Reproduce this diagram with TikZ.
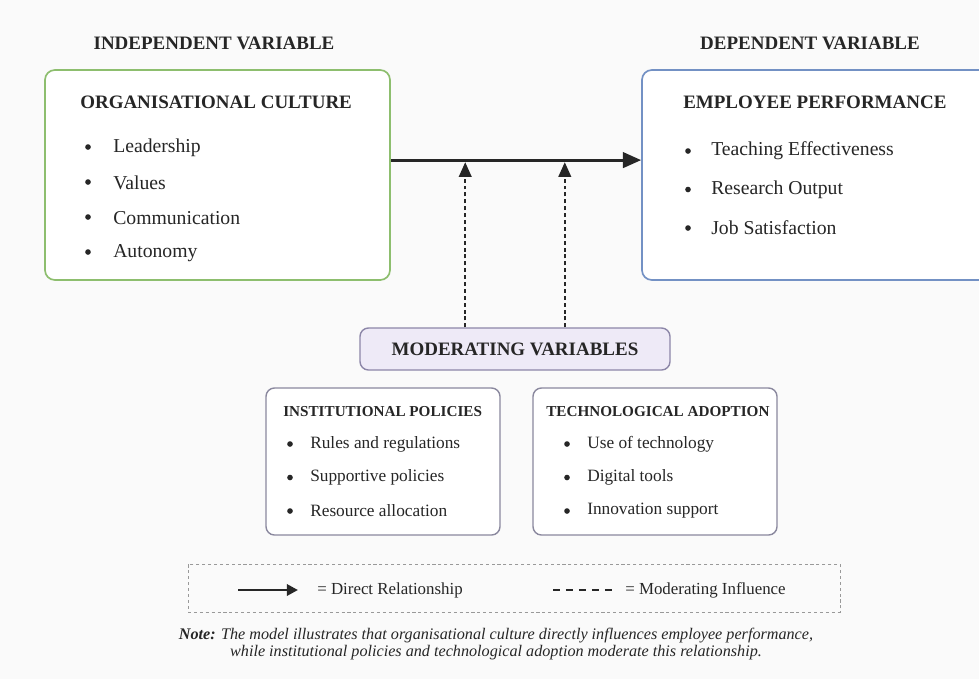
\documentclass[tikz,border=0pt]{standalone}
\usepackage{fontspec}
\setmainfont{Liberation Serif}
\usetikzlibrary{arrows.meta,fit,positioning}
\definecolor{cultureGreen}{HTML}{8DBE6E}
\definecolor{perfBlue}{HTML}{7391C4}
\definecolor{modLine}{HTML}{8C86A8}
\definecolor{modFill}{HTML}{EEEAF7}
\definecolor{subLine}{HTML}{8A889E}
\definecolor{inkGray}{HTML}{262626}

\begin{document}
\begin{tikzpicture}[x=0.025cm,y=-0.025cm,
  every node/.style={text=inkGray,inner sep=0pt},
  head/.style={font=\fontsize{13.5}{16}\selectfont\bfseries},
  title/.style={anchor=west,font=\fontsize{13.5}{16}\selectfont\bfseries},
  subtitle/.style={anchor=west,font=\fontsize{10.8}{13}\selectfont\bfseries},
  item/.style={anchor=west,font=\fontsize{14}{16}\selectfont},
  subitem/.style={anchor=west,font=\fontsize{12.3}{15}\selectfont},
  dot/.style={circle,fill=inkGray,minimum size=4pt},
  main box/.style={draw,line width=1.2pt,rounded corners=7pt},
  sub box/.style={draw=subLine,line width=1pt,fill=white,rounded corners=6pt},
  direct/.style={draw=inkGray,line width=2pt,-{Triangle[length=13pt,width=11pt]}},
  moderating/.style={draw=inkGray,line width=1.4pt,dash pattern=on 2.8pt off 2.1pt,
    -{Triangle[length=10.5pt,width=9pt]},shorten >=1.5pt},
]
  \clip (0,0) rectangle (979,679);%<- keeps the page at the reference size
  \fill[black!2] (0,0) rectangle (979,679);

  % variable headings
  \node[head] (IndepHead) at (214,43) {INDEPENDENT VARIABLE};
  \node[head] (DepHead) at (810,43) {DEPENDENT VARIABLE};

  % independent variable
  \node[main box,draw=cultureGreen,fill=white,fit={(45,70)(390,280)}] (CultureBox) {};
  \node[title] (CultureTitle) at (80,102) {ORGANISATIONAL CULTURE};
  \foreach \txt [count=\i] in {Leadership,Values,Communication,Autonomy}{
    \node[dot] (CultureDot\i) at (88,{147+35*(\i-1)}) {};
    \node[item] (CultureItem\i) at (113,{148+35*(\i-1)}) {\txt};
  }

  % dependent variable
  \node[main box,draw=perfBlue,fill=white,fit={(642,70)(1010,280)}] (PerformanceBox) {};
  \node[title] (PerformanceTitle) at (683,102) {EMPLOYEE PERFORMANCE};
  \foreach \txt [count=\i] in {Teaching Effectiveness,Research Output,Job Satisfaction}{
    \node[dot] (PerfDot\i) at (688,{151+38.5*(\i-1)}) {};
    \node[item] (PerfItem\i) at (711,{151+38.5*(\i-1)}) {\txt};
  }

  % moderators
  \node[main box,draw=modLine,line width=1pt,fill=modFill,rounded corners=6pt,
    fit={(360,328)(670,370)}] (ModBox) {};
  \node[head] (ModTitle) at (ModBox.center) {MODERATING VARIABLES};

  \node[sub box,fit={(266,388)(500,535)}] (PolicyBox) {};
  \node[subtitle] (PolicyTitle) at (283,412) {INSTITUTIONAL POLICIES};
  \foreach \txt [count=\i] in {Rules and regulations,Supportive policies,Resource allocation}{
    \node[dot] (PolicyDot\i) at (290,{444+33.5*(\i-1)}) {};
    \node[subitem] (PolicyItem\i) at (310,{444+33.5*(\i-1)}) {\txt};
  }

  \node[sub box,fit={(533,388)(777,535)}] (TechBox) {};
  \node[subtitle] (TechTitle) at (546,412) {TECHNOLOGICAL ADOPTION};
  \foreach \txt [count=\i] in {Use of technology,Digital tools,Innovation support}{
    \node[dot] (TechDot\i) at (567,{444+33.5*(\i-1)}) {};
    \node[subitem] (TechItem\i) at (587,{444+33.5*(\i-1)}) {\txt};
  }

  % relationships
  \draw[direct] ([yshift=10.6pt]CultureBox.east) -- coordinate (DirectMid) ([yshift=10.6pt]PerformanceBox.west);
  \draw[moderating] ([xshift=-35.4pt]ModBox.north) -- ([xshift=-35.4pt]ModBox.north |- DirectMid);
  \draw[moderating] ([xshift=35.4pt]ModBox.north) -- ([xshift=35.4pt]ModBox.north |- DirectMid);

  % legend
  \node[draw=gray!80,line width=0.7pt,dash pattern=on 2.2pt off 2pt,fit={(188,564)(840,612)}] (LegendBox) {};
  \node[subitem,font=\fontsize{12}{14}\selectfont] (DirectKey) at (317,590) {= Direct Relationship};
  \node[subitem,font=\fontsize{12}{14}\selectfont] (ModKey) at (625,590) {= Moderating Influence};
  \coordinate (DirectSample) at (238,590);
  \coordinate (DashSample) at (553,590);
  \draw[draw=inkGray,line width=2pt,-{Triangle[length=8pt,width=8pt]}] (DirectSample) -- ([xshift=-13.5pt]DirectKey.west);
  \draw[draw=inkGray,line width=1.4pt,dash pattern=on 5pt off 4.2pt] (DashSample) -- ([xshift=-9pt]ModKey.west);

  % note
  \node[align=center,font=\fontsize{11.5}{12.3}\selectfont\itshape] (Note) at (496,644)
    {\textbf{Note:} The model illustrates that organisational culture directly influences employee performance,\\
     while institutional policies and technological adoption moderate this relationship.};
\end{tikzpicture}
\end{document}
